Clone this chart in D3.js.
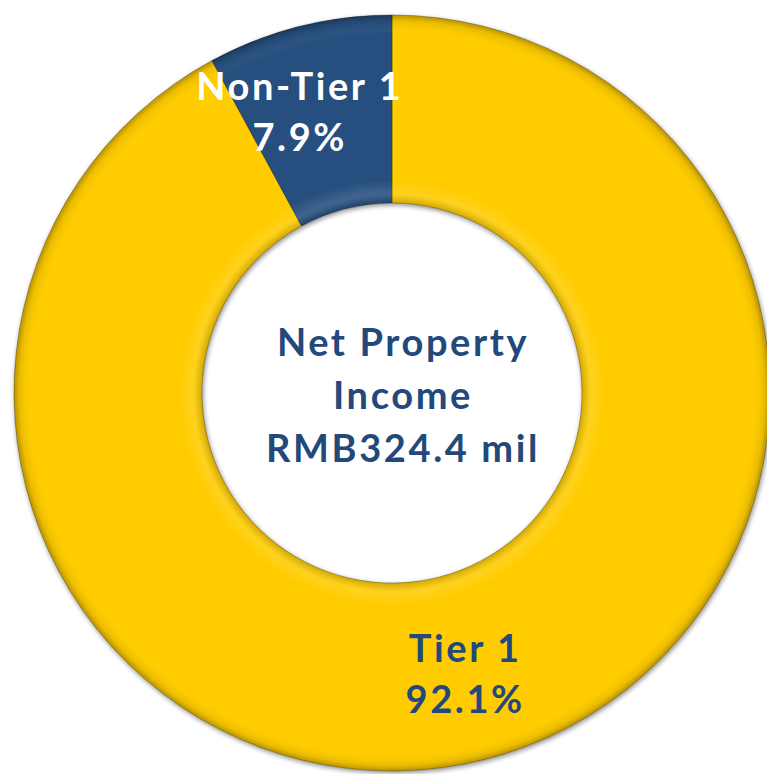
<html><head>
<meta charset="utf-8">
<title>Net Property Income</title>
<script src="https://d3js.org/d3.v7.min.js"></script>
<style>
  body { margin: 0; background: #fff; }
  text { font-family: "Lato", "Open Sans", sans-serif; font-weight: bold; letter-spacing: 2.6px; }
</style>
</head>
<body>
<div id="chart"></div>
<script>

var categories = ["Tier 1", "Non-Tier 1"];
var shares = [92.1, 7.9];
var centreLines = ["Net Property", "Income", "RMB324.4 mil"];

var width = 767, height = 774;
var cx = 392, cy = 393;
var outerR = 378, innerR = 190;

var colour = d3.scaleOrdinal().domain(categories).range(["#FFCC00", "#27507F"]);
var labelColour = d3.scaleOrdinal().domain(categories).range(["#23497C", "#ffffff"]);

var svg = d3.select("#chart").append("svg")
    .attr("width", width)
    .attr("height", height);

var defs = svg.append("defs");
var shadow = defs.append("filter").attr("id", "shadow")
    .attr("x", "-10%").attr("y", "-10%").attr("width", "120%").attr("height", "120%");
shadow.append("feGaussianBlur").attr("in", "SourceAlpha").attr("stdDeviation", 2.5).attr("result", "blur");
shadow.append("feOffset").attr("in", "blur").attr("dx", 1).attr("dy", 2).attr("result", "off");
shadow.append("feComponentTransfer").attr("in", "off").attr("result", "soft")
  .append("feFuncA").attr("type", "linear").attr("slope", 0.45);
var merge = shadow.append("feMerge");
merge.append("feMergeNode").attr("in", "soft");
merge.append("feMergeNode").attr("in", "SourceGraphic");

// soft bevel on the ring edges (coords relative to the centred group)
var bevel = defs.append("radialGradient").attr("id", "bevel")
    .attr("gradientUnits", "userSpaceOnUse")
    .attr("cx", 0).attr("cy", 0).attr("r", outerR);
bevel.append("stop").attr("offset", innerR / outerR).attr("stop-color", "#000").attr("stop-opacity", 0.18);
bevel.append("stop").attr("offset", innerR / outerR + 0.025).attr("stop-color", "#fff").attr("stop-opacity", 0.12);
bevel.append("stop").attr("offset", innerR / outerR + 0.06).attr("stop-color", "#fff").attr("stop-opacity", 0);
bevel.append("stop").attr("offset", 0.95).attr("stop-color", "#fff").attr("stop-opacity", 0);
bevel.append("stop").attr("offset", 0.985).attr("stop-color", "#000").attr("stop-opacity", 0.08);
bevel.append("stop").attr("offset", 1).attr("stop-color", "#000").attr("stop-opacity", 0.28);

var pie = d3.pie().sort(null).value(function(d) { return d.value; });
var slices = pie(categories.map(function(c, i) { return { name: c, value: shares[i] }; }));

var arc = d3.arc().innerRadius(innerR).outerRadius(outerR);
var labelArc = d3.arc().innerRadius(298).outerRadius(298);

var g = svg.append("g").attr("transform", "translate(" + cx + "," + cy + ")");

var ring = g.append("g").attr("filter", "url(#shadow)");
ring.selectAll("path.slice")
  .data(slices)
  .enter().append("path")
    .attr("class", "slice")
    .attr("d", arc)
    .attr("fill", function(d) { return colour(d.data.name); })
    .attr("stroke", "rgba(0,0,0,0.35)")
    .attr("stroke-width", 0.8);

ring.selectAll("path.shade")
  .data(slices)
  .enter().append("path")
    .attr("class", "shade")
    .attr("d", arc)
    .attr("fill", "url(#bevel)")
    .style("pointer-events", "none");

var nudge = [[0, 0], [-19, 16]];
var labels = g.selectAll("text.lbl")
  .data(slices)
  .enter().append("text")
    .attr("class", "lbl")
    .attr("text-anchor", "middle")
    .style("font-size", "38px")
    .attr("fill", function(d) { return labelColour(d.data.name); })
    .attr("transform", function(d, i) {
      var c = labelArc.centroid(d);
      return "translate(" + (c[0] + nudge[i][0]) + "," + (c[1] + nudge[i][1]) + ")";
    });
labels.append("tspan").attr("x", 0).attr("y", -20).text(function(d) { return d.data.name; });
labels.append("tspan").attr("x", 0).attr("y", 31).text(function(d) { return d.data.value.toFixed(1) + "%"; });

g.append("text")
    .attr("text-anchor", "middle")
    .style("font-size", "38px")
    .attr("fill", "#23497C")
  .selectAll("tspan")
  .data(centreLines)
  .enter().append("tspan")
    .attr("x", 11)
    .attr("y", function(d, i) { return -37 + i * 53; })
    .text(function(d) { return d; });

</script>
</body></html>
